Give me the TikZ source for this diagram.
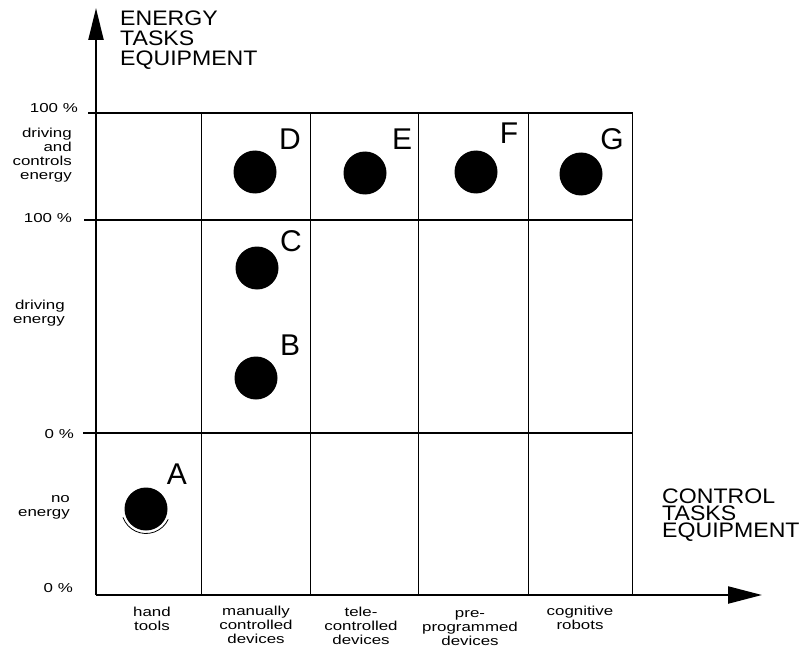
\documentclass[tikz,border=0pt]{standalone}
\usepackage{fontspec}
\usepackage{graphicx}
\setmainfont{Liberation Sans}
\newfontfamily\axfont[FakeStretch=1.1]{Liberation Sans}
\newcommand\stx[1]{\scalebox{1.3}[1]{#1}}
\usetikzlibrary{arrows.meta}
\begin{document}
\begin{tikzpicture}[x=1pt,y=-1pt,
  lab/.style={font=\fontsize{13}{14}\selectfont, inner sep=0pt},
  pct/.style={font=\fontsize{13}{14}\selectfont, inner sep=0pt, anchor=base east},
  axlab/.style={font=\axfont\fontsize{21}{20}\selectfont, inner sep=0pt, align=left, anchor=north west},
  letter/.style={font=\fontsize{30}{30}\selectfont, inner sep=0pt},
  dot/.style={circle, fill=black, minimum size=43pt, inner sep=0pt},
  axis/.style={line width=2.2pt},
  hgrid/.style={line width=1.8pt},
  vgrid/.style={line width=1pt}]
\useasboundingbox[fill=white] (0,0) rectangle (802,647);

% key coordinates
\coordinate (O) at (96,595);
\coordinate (Ytip) at (96,8);
\coordinate (Xtip) at (762,595);

% grid
\draw[line width=1.3pt] (96,113) -- (633,113);
\draw[hgrid] (84,220) -- (633,220);
\draw[hgrid] (83,433) -- (633,433);
\draw[line width=1.2pt] (88,113) -- (96,113);
\foreach \x in {201,310,418,528,632} \draw[vgrid] (\x,113) -- (\x,595);

% axes
\draw[axis, -{Triangle[length=32pt,width=15pt]}] (O) -- (Ytip);
\draw[axis, -{Triangle[length=34pt,width=17pt]}] (O) -- (Xtip);

% axis labels
\node[axlab] (ylab) at (120,11) {ENERGY\\TASKS\\EQUIPMENT};
\node[axlab, font=\axfont\fontsize{21}{17}\selectfont] (xlab) at (662,489) {CONTROL\\TASKS\\EQUIPMENT};

% left labels
\node[pct] (p1) at (78,113) {\stx{100 \%}};
\node[pct] (p2) at (72,222) {\stx{100 \%}};
\node[pct] (p3) at (74,438) {\stx{0 \%}};
\node[pct] (p4) at (73,592) {\stx{0 \%}};
\node[lab, align=right, anchor=north east] (l1) at (72,128) {\stx{driving}\\\stx{and}\\\stx{controls}\\\stx{energy}};
\node[lab, align=right, anchor=north east] (l2) at (65,300) {\stx{driving}\\\stx{energy}};
\node[lab, align=right, anchor=north east] (l3) at (70,495) {\stx{no}\\\stx{energy}};

% bottom labels
\node[lab, align=center, anchor=north] (b1) at (152,607) {\stx{hand}\\\stx{tools}};
\node[lab, align=center, anchor=north] (b2) at (256,606) {\stx{manually}\\\stx{controlled}\\\stx{devices}};
\node[lab, align=center, anchor=north] (b3) at (361,607) {\stx{tele-}\\\stx{controlled}\\\stx{devices}};
\node[lab, align=center, anchor=north] (b4) at (470,610) {\stx{pre-}\\\stx{programmed}\\\stx{devices}};
\node[lab, align=center, anchor=north] (b5) at (580,606) {\stx{cognitive}\\\stx{robots}};

% dots
\node[dot] (dA) at (146,509) {};
\node[dot] (dB) at (256,378) {};
\node[dot] (dC) at (257,268) {};
\node[dot] (dD) at (255,172) {};
\node[dot] (dE) at (365,173) {};
\node[dot] (dF) at (476,172) {};
\node[dot] (dG) at (581,174) {};
\draw[line width=0.8pt] (dA.center) ++(160:24.5) arc[start angle=160, end angle=25, radius=24.5];

% letters
\node[letter] (A) at (177,474) {A};
\node[letter] (B) at (290,345) {B};
\node[letter] (C) at (291,241) {C};
\node[letter] (D) at (290,139) {D};
\node[letter] (E) at (402,139) {E};
\node[letter] (F) at (509,133) {F};
\node[letter] (G) at (612,139) {G};
\end{tikzpicture}
\end{document}
